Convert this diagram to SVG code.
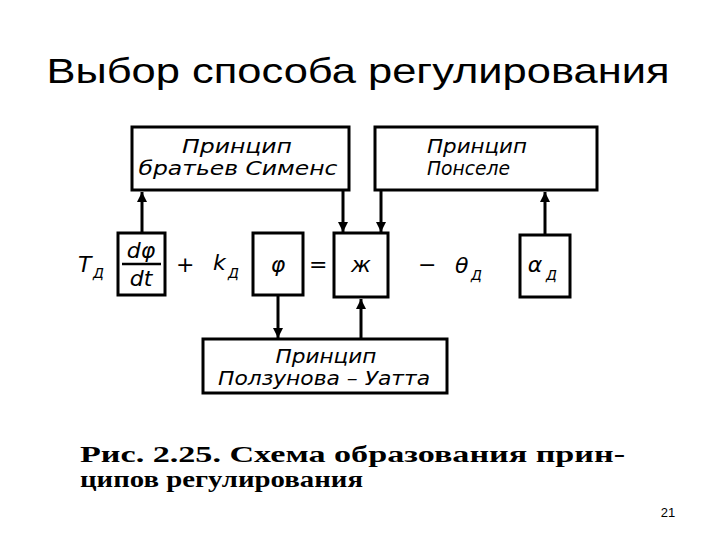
<svg xmlns="http://www.w3.org/2000/svg" width="720" height="540" viewBox="0 0 720 540">
<style>
.box{fill:#fff;stroke:#000;stroke-width:3}
.lbl{font-family:"DejaVu Sans",sans-serif;font-style:oblique;font-size:20px;fill:#000}
.m{font-family:"DejaVu Sans",sans-serif;font-style:oblique;font-size:22px;fill:#000}
.sub{font-family:"DejaVu Sans",sans-serif;font-style:oblique;font-size:14px;fill:#000}
.cap{font-family:"Liberation Serif",serif;font-weight:bold;font-size:24px;fill:#000}
.conn line{stroke:#000;stroke-width:3}
</style>
<defs>
<marker id="ah" viewBox="0 0 10 16" refX="10" refY="8" markerWidth="10" markerHeight="16" markerUnits="userSpaceOnUse" orient="auto">
<path d="M0,3 L10,8 L0,13 Z" fill="#000"/>
</marker>
</defs>
<rect width="720" height="540" fill="#fff"/>
<text x="358" y="83" text-anchor="middle" font-family="Liberation Sans, Arial, sans-serif" font-size="35" textLength="623" lengthAdjust="spacingAndGlyphs">Выбор способа регулирования</text>

<g class="conn">
<line x1="142" y1="233" x2="142" y2="192" marker-end="url(#ah)"/>
<line x1="343" y1="190" x2="343" y2="232" marker-end="url(#ah)"/>
<line x1="381" y1="190" x2="381" y2="232" marker-end="url(#ah)"/>
<line x1="545" y1="235" x2="545" y2="192" marker-end="url(#ah)"/>
<line x1="278" y1="295" x2="278" y2="338" marker-end="url(#ah)"/>
<line x1="361" y1="339" x2="361" y2="299" marker-end="url(#ah)"/>
</g>

<g id="siemens">
<rect class="box" x="132" y="127" width="217" height="63"/>
<text class="lbl" x="237" y="153" text-anchor="middle" textLength="110" lengthAdjust="spacingAndGlyphs">Принцип</text>
<text class="lbl" x="238" y="175" text-anchor="middle" textLength="199" lengthAdjust="spacingAndGlyphs">братьев Сименс</text>
</g>
<g id="poncelet">
<rect class="box" x="375" y="127" width="222" height="63"/>
<text class="lbl" x="427" y="153" textLength="100" lengthAdjust="spacingAndGlyphs">Принцип</text>
<text class="lbl" x="427" y="175" textLength="83" lengthAdjust="spacingAndGlyphs">Понселе</text>
</g>
<g id="polzunov">
<rect class="box" x="203" y="339" width="244" height="54"/>
<text class="lbl" x="326" y="363" text-anchor="middle" textLength="101" lengthAdjust="spacingAndGlyphs">Принцип</text>
<text class="lbl" x="324" y="385" text-anchor="middle" textLength="212" lengthAdjust="spacingAndGlyphs">Ползунова – Уатта</text>
</g>

<g id="equation">
<text class="m" x="78" y="272">T</text>
<text class="sub" x="93" y="278">Д</text>
<text class="m" x="176" y="272">+</text>
<text class="m" x="213" y="270">k</text>
<text class="sub" x="228" y="278">Д</text>
<text class="m" x="309" y="272">=</text>
<text class="m" x="418" y="272">−</text>
<text class="m" x="455" y="273">θ</text>
<text class="sub" x="471" y="280">Д</text>
</g>
<g id="deriv">
<rect class="box" x="118" y="233" width="47" height="62"/>
<text class="m" x="141" y="258" text-anchor="middle">dφ</text>
<line x1="122" y1="264" x2="161" y2="264" stroke="#000" stroke-width="2.5"/>
<text class="m" x="141" y="286" text-anchor="middle">dt</text>
</g>
<g id="phi">
<rect class="box" x="253" y="233" width="50" height="62"/>
<text class="m" x="278" y="272" text-anchor="middle">φ</text>
</g>
<g id="kappa">
<rect class="box" x="334" y="233" width="54" height="64"/>
<text class="m" x="361" y="272" text-anchor="middle" font-size="20">ж</text>
</g>
<g id="alpha">
<rect class="box" x="520" y="235" width="50" height="62"/>
<text class="m" x="535" y="272" text-anchor="middle">α</text>
<text class="sub" x="546" y="280">Д</text>
</g>

<text class="cap" x="80" y="462" textLength="545" lengthAdjust="spacingAndGlyphs">Рис. 2.25. Схема образования прин-</text>
<text class="cap" x="80" y="487" textLength="283" lengthAdjust="spacingAndGlyphs">ципов регулирования</text>
<text x="668" y="517" text-anchor="middle" font-family="Liberation Sans, Arial, sans-serif" font-size="13">21</text>
</svg>
